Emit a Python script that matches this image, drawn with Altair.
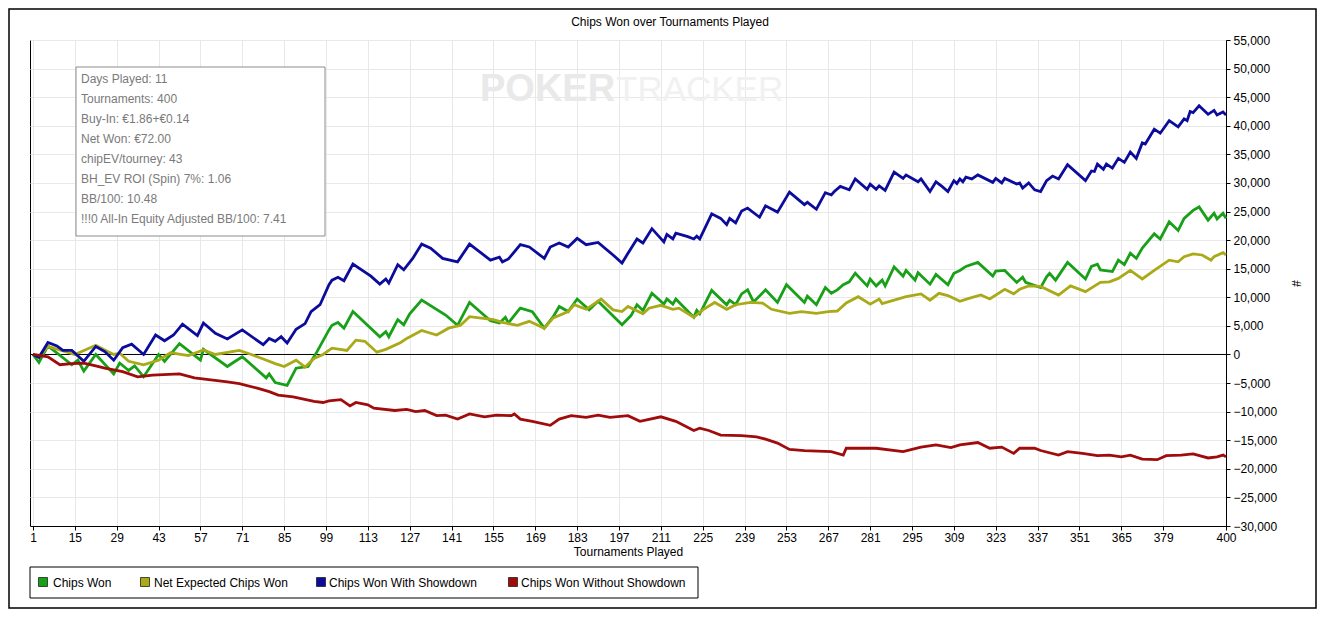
import altair as alt
import pandas as pd

FONT = "Liberation Sans"

series_names = ["Chips Won", "Net Expected Chips Won",
                "Chips Won With Showdown", "Chips Won Without Showdown"]
series_colors = ["#18a018", "#aaaa18", "#0c0c9c", "#a00c0c"]

x_ticks = [1, 15, 29, 43, 57, 71, 85, 99, 113, 127, 141, 155, 169, 183, 197,
           211, 225, 239, 253, 267, 281, 295, 309, 323, 337, 351, 365, 379, 400]
y_ticks = list(range(-30000, 55001, 5000))

chips_won = [(1,0),(3,-1400),(6,1500),(14,-1800),(16,-1000),(18,-2900),(22,0),(28,-3400),
    (30,-1500),(33,-2800),(35,-2000),(38,-3900),(42,-800),(43,0),(45,-1200),(50,1900),
    (57,-1000),(58,900),(66,-2100),(68,-1400),(71,-400),(79,-4100),(80,-3400),(82,-4900),
    (86,-5400),(89,-2400),(93,-2100),(96,500),(100,4300),(101,5100),(103,5600),(105,4600),
    (108,7500),(117,3100),(119,4000),(120,3100),(123,6100),(125,5200),(127,7100),(131,9500),
    (139,6900),(143,5100),(147,9100),(154,5900),(157,5500),(159,6500),(160,5500),(163,7500),
    (164,8100),(168,7500),(172,4600),(175,6600),(177,8400),(180,7500),(183,9700),(187,7800),
    (190,9300),(198,5200),(201,6800),(203,8700),(205,7700),(208,10700),(212,8800),(213,9700),
    (215,8800),(216,9700),(222,6500),(223,7700),(224,7100),(228,11200),(233,8700),(234,9500),
    (236,8700),(238,10600),(240,11300),(242,9200),(246,11300),(250,9100),(253,12200),(259,9100),
    (260,10200),(263,8700),(266,11700),(268,10700),(270,11300),(272,12200),(274,12700),
    (276,14200),(280,12000),(281,13200),(283,12000),(285,13000),(286,12000),(289,15300),
    (292,13700),(293,14700),(296,13000),(297,14300),(301,12300),(303,14000),(307,12200),
    (309,14200),(311,14700),(313,15400),(317,16100),(322,13700),(323,14600),(326,14700),
    (330,12600),(332,13500),(333,12600),(338,11700),(340,13600),(341,14200),(343,13000),
    (347,16100),(353,13200),(355,15400),(357,15800),(358,14800),(362,14500),(364,16500),
    (366,15700),(368,17700),(370,16800),(372,18600),(376,21100),(378,20200),(381,23200),
    (384,21700),(386,23800),(389,25200),(391,25800),(394,23500),(396,24700),(397,23700),
    (399,24700),(400,23800)]

net_expected = [(1,0),(3,-400),(6,1400),(15,0),(22,1600),(25,800),(28,0),(30,200),(33,-1200),
    (38,-1800),(43,-1000),(47,300),(53,-200),(58,800),(62,0),(70,700),(74,0),(78,-800),
    (82,-1600),(85,-2100),(89,-1000),(92,-2200),(95,-700),(98,0),(101,1100),(106,700),
    (109,2500),(112,2300),(116,400),(119,900),(124,2100),(126,2800),(131,4200),(136,3400),
    (140,4600),(144,5100),(147,6600),(155,6100),(158,5600),(163,5100),(167,5800),(172,4600),
    (175,6400),(180,7500),(182,8700),(186,7900),(191,9700),(195,7800),(198,7500),(200,8400),
    (205,7100),(207,8100),(211,8600),(215,7900),(217,8100),(222,6500),(225,7800),(229,9100),
    (233,7900),(236,8700),(241,9100),(245,9000),(248,7900),(254,7200),(258,7500),(263,7200),
    (267,7500),(270,7600),(273,9000),(277,10100),(281,8800),(284,9700),(285,8900),(289,9500),
    (293,10100),(298,10600),(301,9500),(304,10700),(307,10300),(311,9300),(314,9800),
    (318,10400),(321,9700),(326,11400),(329,10600),(331,11400),(334,12000),(338,11900),
    (344,10400),(348,12000),(353,11000),(358,12600),(361,12700),(364,13300),(368,14700),
    (372,13200),(376,14700),(381,16500),(384,16200),(386,17100),(389,17600),(392,17400),
    (395,16500),(396,17100),(399,17800),(400,17400)]

with_showdown = [(1,0),(3,-500),(6,2100),(9,1500),(11,700),(14,700),(18,-1200),(22,1400),
    (25,500),(28,-1000),(31,1200),(34,1800),(38,0),(42,3400),(45,2400),(48,3400),(51,5300),
    (56,3300),(58,5500),(62,3700),(66,2700),(71,4300),(78,1700),(80,2800),(82,2300),(84,3100),
    (86,2000),(89,4400),(92,5400),(94,7500),(97,8700),(100,12200),(101,13000),(103,13500),
    (105,12900),(108,15800),(114,13700),(117,12300),(119,13200),(120,12500),(123,15700),
    (125,14800),(128,16800),(131,19300),(134,18600),(138,16800),(143,16200),(147,19300),
    (154,16500),(157,17000),(158,16200),(160,16700),(164,19200),(167,18800),(172,16800),
    (174,18800),(177,19500),(180,18800),(183,20300),(186,19200),(190,19600),(195,17400),
    (198,16000),(200,17700),(203,20200),(205,19500),(208,22000),(212,19700),(213,21000),
    (215,20200),(216,21200),(220,20600),(222,20200),(223,20700),(224,20200),(228,24600),
    (231,23800),(233,22700),(234,23800),(236,23000),(238,25100),(240,25600),(244,24000),
    (246,26000),(250,24900),(254,28400),(259,26200),(260,26600),(263,25400),(266,28300),
    (268,27900),(269,28500),(271,29400),(274,28800),(276,30700),(280,28900),(281,29800),
    (283,28900),(284,29500),(286,28700),(289,31900),(292,30800),(293,31400),(297,30200),
    (298,30700),(301,28500),(303,30200),(305,29400),(307,28500),(309,30400),(310,29900),
    (311,30700),(312,30200),(313,31000),(315,30700),(317,31400),(322,30100),(323,30800),
    (325,30000),(326,30800),(330,29800),(331,30000),(332,29100),(334,30000),(336,28800),
    (338,28500),(340,30400),(342,31200),(344,30700),(347,33200),(353,30400),(355,32100),
    (356,32000),(357,33300),(359,32400),(360,33300),(362,32600),(364,34300),(366,33600),
    (368,35400),(370,34300),(372,37000),(373,36800),(376,39400),(378,38700),(381,40900),
    (384,39800),(386,41200),(387,40900),(388,42500),(389,42300),(391,43500),(394,42000),
    (396,42700),(397,41900),(399,42400),(400,41900)]

without_showdown = [(1,0),(6,-400),(10,-1800),(14,-1600),(18,-1500),(22,-2000),(25,-2400),
    (28,-2700),(31,-3000),(36,-3900),(41,-3600),(50,-3400),(55,-4100),(66,-4800),(70,-5100),
    (76,-5900),(80,-6500),(83,-7100),(88,-7400),(95,-8200),(98,-8400),(100,-8100),(104,-7900),
    (107,-9000),(109,-8400),(113,-8800),(115,-9400),(122,-9800),(126,-9600),(129,-10000),
    (132,-9800),(136,-10700),(139,-10600),(143,-11300),(147,-10400),(152,-10900),(156,-10600),
    (161,-10700),(162,-10400),(164,-11300),(168,-11700),(174,-12400),(177,-11300),(181,-10700),
    (186,-11000),(190,-10600),(194,-11000),(200,-10700),(204,-11700),(211,-10900),(216,-11700),
    (222,-13300),(224,-12900),(227,-13300),(231,-14100),(238,-14200),(243,-14400),(246,-14800),
    (250,-15500),(254,-16600),(259,-16800),(268,-17000),(272,-17600),(273,-16400),(278,-16400),
    (283,-16400),(292,-17000),(298,-16200),(303,-15800),(308,-16300),(311,-15800),(317,-15400),
    (321,-16400),(325,-16200),(329,-17300),(331,-16400),(336,-16400),(338,-16800),(344,-17600),
    (347,-17000),(352,-17300),(357,-17700),(361,-17600),(365,-17900),(368,-17600),(372,-18300),
    (377,-18400),(380,-17700),(385,-17600),(389,-17400),(394,-18100),(397,-17900),(399,-17600),
    (400,-17900)]

stats_lines = ["Days Played: 11", "Tournaments: 400", "Buy-In: \u20ac1.86+\u20ac0.14",
               "Net Won: \u20ac72.00", "chipEV/tourney: 43", "BH_EV ROI (Spin) 7%: 1.06",
               "BB/100: 10.48", "!!!0 All-In Equity Adjusted BB/100: 7.41"]

chart_title = "Chips Won over Tournaments Played"

# legend layout (pixel positions of each entry's swatch centre / label start, plot coords)
legend_swatch_x = [13, 115, 291, 483]
legend_label_x = [23, 124, 299, 491]

rows = []
for k, (name, pts) in enumerate(zip(series_names,
                                    [chips_won, net_expected, with_showdown, without_showdown])):
    for t, v in pts:
        rows.append({"series": name, "t": t, "v": v, "k": k})
df = pd.DataFrame(rows)
one = pd.DataFrame({"a": [0]})

W, H = 1196, 486

x_enc = alt.X("t:Q", scale=alt.Scale(domain=[0, 400], nice=False, zero=False),
              axis=alt.Axis(values=x_ticks, title="Tournaments Played", grid=True,
                            tickSize=4, labelPadding=2, titlePadding=3, labelFlush=False,
                            labelOverlap=False, tickCount=len(x_ticks)))
y_enc = alt.Y("v:Q", scale=alt.Scale(domain=[-30000, 55000], nice=False, zero=False),
              axis=alt.Axis(orient="right", values=y_ticks, format=",d", title="#",
                            grid=True, tickSize=4, labelPadding=3, titlePadding=12,
                            labelFlush=False, labelOverlap=False, labelBound=False,
                            tickCount=len(y_ticks)))

zero_rule = alt.Chart(one).mark_rule(color="black", strokeWidth=1).encode(y=alt.datum(0))

lines = alt.Chart(df).mark_line(strokeWidth=2.8).encode(
    x=x_enc, y=y_enc,
    stroke=alt.Stroke("series:N", scale=alt.Scale(domain=series_names, range=series_colors),
                      legend=None),
    order=alt.Order("t:Q"),
)

legend_box = alt.Chart(one).mark_rect(fill="white", stroke="black", strokeWidth=1).encode(
    x=alt.value(0), x2=alt.value(668), y=alt.value(527), y2=alt.value(558))

legend_layers = []
for name, col, sx, lx in zip(series_names, series_colors, legend_swatch_x, legend_label_x):
    legend_layers.append(alt.Chart(one).mark_square(size=81, color=col, stroke="#222222",
                                                    strokeWidth=0.8, opacity=1).encode(
        x=alt.value(sx), y=alt.value(542)))
    legend_layers.append(alt.Chart(one).mark_text(align="left", baseline="middle", font=FONT,
                                                  fontSize=12, color="black").encode(
        x=alt.value(lx), y=alt.value(542.5), text=alt.value(name)))

stats_box = alt.Chart(one).mark_rect(fill="white", stroke="#8c8c8c", strokeWidth=1).encode(
    x=alt.value(46), x2=alt.value(295), y=alt.value(27), y2=alt.value(196))

stats_texts = [
    alt.Chart(one).mark_text(align="left", baseline="middle", font=FONT, fontSize=12,
                             color="#7a7a7a").encode(
        x=alt.value(51), y=alt.value(39 + 20 * i), text=alt.value(line))
    for i, line in enumerate(stats_lines)
]

wm1 = alt.Chart(one).mark_text(align="left", baseline="middle", font=FONT, fontSize=38,
                               fontWeight="bold", color="#e9e9e9").encode(
    x=alt.value(450), y=alt.value(50), text=alt.value("POKER"))
wm2 = alt.Chart(one).mark_text(align="left", baseline="middle", font=FONT, fontSize=35,
                               color="#f1f1f1").encode(
    x=alt.value(586), y=alt.value(50), text=alt.value("TRACKER"))

title = alt.Chart(one).mark_text(align="center", baseline="middle", font=FONT, fontSize=12,
                                 color="black").encode(
    x=alt.value(640), y=alt.value(-18), text=alt.value(chart_title))

frame = alt.Chart(one).mark_rect(fill="transparent", stroke="black", strokeWidth=1.5).encode(
    x=alt.value(-21), x2=alt.value(1286), y=alt.value(-31), y2=alt.value(568))

chart = alt.layer(wm1, wm2, zero_rule, lines, legend_box, *legend_layers, stats_box,
                  *stats_texts, title, frame).properties(
    width=W, height=H,
    autosize=alt.AutoSizeParams(type="none"),
    padding={"left": 22, "top": 32, "right": 91, "bottom": 83},
    background="white",
).configure_view(stroke="black", strokeWidth=1).configure_axis(
    domainColor="black", tickColor="black", labelColor="black", titleColor="black",
    labelFont=FONT, titleFont=FONT, labelFontSize=12, titleFontSize=12,
    titleFontWeight="normal", gridColor="#e8e8e8", gridWidth=1,
)

chart.save("out.html", embed_options={"renderer": "svg", "actions": False})
